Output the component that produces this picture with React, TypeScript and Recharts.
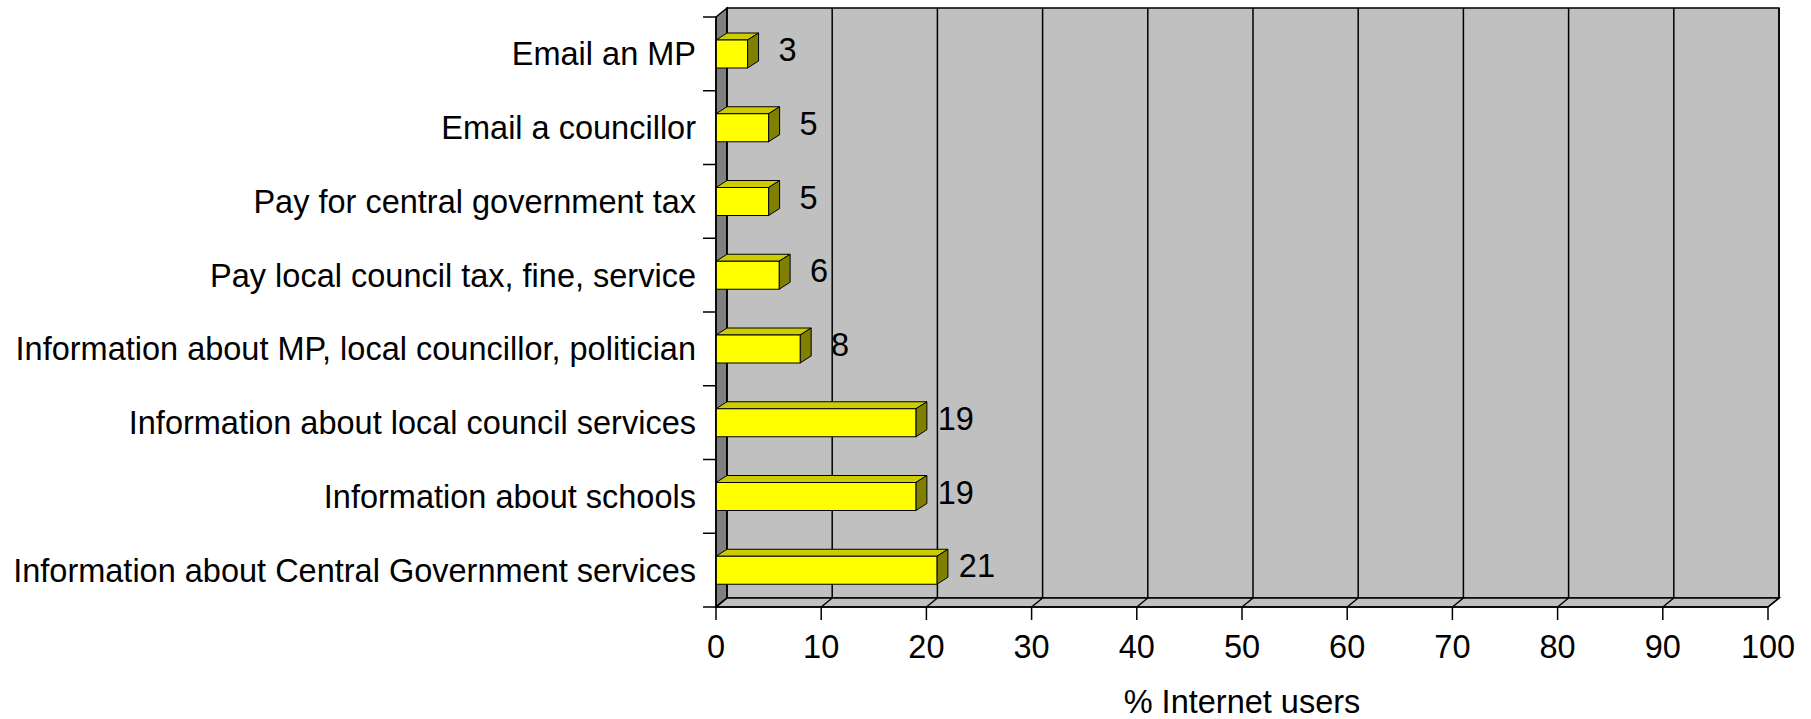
import React from "react";
import { BarChart, Bar, XAxis, YAxis, ReferenceArea, LabelList } from "recharts";

const categories = [
  "Email an MP",
  "Email a councillor",
  "Pay for central government tax",
  "Pay local council tax, fine, service",
  "Information about MP, local councillor, politician",
  "Information about local council services",
  "Information about schools",
  "Information about Central Government services",
];
const values = [3, 5, 5, 6, 8, 19, 19, 21];
const xTicks = [0, 10, 20, 30, 40, 50, 60, 70, 80, 90, 100];

const data = categories.map((name, i) => ({ name, value: values[i] }));

const FONT = "'Liberation Sans', Arial, sans-serif";
const FS = 32.5;
const DX = 11; // depth offset of the back wall
const DY = -9;
const BDX = 11; // depth of the bars
const BDY = -7;
const BAND = 590 / categories.length;

function Walls(props: any) {
  const { x, y, width, height } = props;
  const bottom = y + height;
  return (
    <g>
      <polygon
        points={`${x},${y} ${x + DX},${y + DY} ${x + DX},${bottom + DY} ${x},${bottom}`}
        fill="#808080"
        stroke="#000"
        strokeWidth={1.5}
      />
      <rect x={x + DX} y={y + DY} width={width} height={height} fill="#C0C0C0" stroke="#000" strokeWidth={1.5} />
      <polygon
        points={`${x},${bottom} ${x + DX},${bottom + DY} ${x + width + DX},${bottom + DY} ${x + width},${bottom}`}
        fill="#C0C0C0"
        stroke="#000"
        strokeWidth={1.5}
      />
      {xTicks.map((t) => {
        const gx = x + (width * t) / 100;
        return (
          <g key={t}>
            <line x1={gx + DX} y1={y + DY} x2={gx + DX} y2={bottom + DY} stroke="#000" strokeWidth={1.5} />
            <line x1={gx} y1={bottom} x2={gx + DX} y2={bottom + DY} stroke="#000" strokeWidth={1.5} />
          </g>
        );
      })}
    </g>
  );
}

function Bar3D(props: any) {
  const { x, y, width, height } = props;
  if (width <= 0) return null;
  const r = x + width;
  return (
    <g stroke="#000" strokeWidth={1}>
      <polygon points={`${x},${y} ${x + BDX},${y + BDY} ${r + BDX},${y + BDY} ${r},${y}`} fill="#CCCC00" />
      <polygon
        points={`${r},${y} ${r + BDX},${y + BDY} ${r + BDX},${y + height + BDY} ${r},${y + height}`}
        fill="#808000"
      />
      <rect x={x} y={y} width={width} height={height} fill="#FFFF00" />
    </g>
  );
}

function ValueLabel(props: any) {
  const { x, y, width, height, value } = props;
  return (
    <text
      x={x + width + 40}
      y={y + height / 2 - 4}
      textAnchor="middle"
      dominantBaseline="central"
      fontSize={FS}
      fontFamily={FONT}
      fill="#000"
    >
      {value}
    </text>
  );
}

function CategoryTick(props: any) {
  const { x, y, payload, index } = props;
  const ax = x + 20;
  return (
    <g>
      <line x1={ax - 13} y1={y - BAND / 2} x2={ax} y2={y - BAND / 2} stroke="#000" strokeWidth={1.5} />
      {index === categories.length - 1 && (
        <line x1={ax - 13} y1={y + BAND / 2} x2={ax} y2={y + BAND / 2} stroke="#000" strokeWidth={1.5} />
      )}
      <text x={x} y={y} dy="0.355em" textAnchor="end" fontSize={FS} fontFamily={FONT} fill="#000">
        {payload.value}
      </text>
    </g>
  );
}

export default function App() {
  return (
    <div style={{ position: "absolute", left: 0, top: 0, background: "#fff" }}>
      <BarChart
        width={1811}
        height={719}
        data={data}
        layout="vertical"
        margin={{ top: 17, right: 43, left: 16, bottom: 0 }}
      >
        <ReferenceArea x1={0} x2={100} shape={<Walls />} ifOverflow="visible" zIndex={-100} />
        <XAxis
          type="number"
          domain={[0, 100]}
          ticks={xTicks}
          interval={0}
          height={112}
          tickSize={13}
          tickMargin={15}
          axisLine={{ stroke: "#000", strokeWidth: 1.5 }}
          tickLine={{ stroke: "#000", strokeWidth: 1.5 }}
          tick={{ fontSize: FS, fontFamily: FONT, fill: "#000" }}
          label={{
            value: "% Internet users",
            position: "insideBottom",
            offset: 6,
            fontSize: FS,
            fontFamily: FONT,
            fill: "#000",
          }}
        />
        <YAxis
          type="category"
          dataKey="name"
          width={700}
          interval={0}
          tickSize={13}
          tickMargin={7}
          tickLine={false}
          axisLine={{ stroke: "#000", strokeWidth: 1.5 }}
          tick={<CategoryTick />}
        />
        <Bar dataKey="value" barSize={28} shape={<Bar3D />} isAnimationActive={false}>
          <LabelList dataKey="value" content={<ValueLabel />} />
        </Bar>
      </BarChart>
    </div>
  );
}
